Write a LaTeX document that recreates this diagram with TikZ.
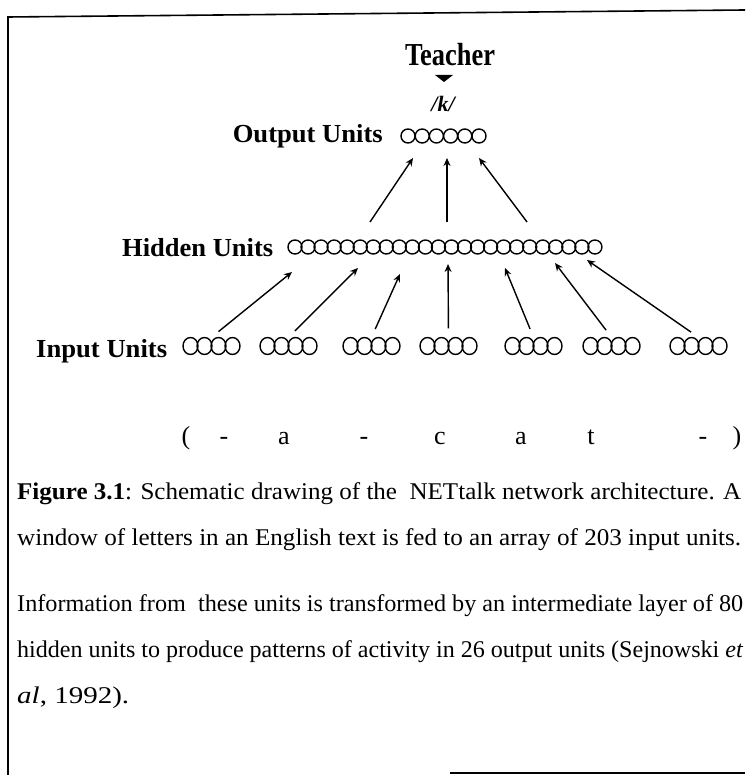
\documentclass[tikz,border=0pt]{standalone}
\usepackage{fontspec}
\setmainfont{Liberation Serif}
\usetikzlibrary{arrows.meta}
\tikzset{
  frame/.style={line width=1.6pt, black},
  unit/.style={line width=1.4pt, black},
  arr/.style={line width=1.4pt, -{Stealth[length=8pt,width=7pt]}},
  lbl/.style={inner sep=0pt, font=\fontsize{26}{26}\selectfont\bfseries},
  letter/.style={inner sep=0pt, anchor=base, font=\fontsize{26}{26}\selectfont},
  captxt/.style={inner sep=0pt, anchor=base west, font=\fontsize{24}{24}\selectfont},
}
\begin{document}
\begin{tikzpicture}[x=1pt,y=-1pt]
\useasboundingbox (0,0) rectangle (745,775);
% frame
\draw[frame] (745,10) -- (8,17) -- (8,775);
\draw[frame] (450,773) -- (745,773);

% teacher
\node[lbl, anchor=base, font=\fontsize{32}{32}\selectfont\bfseries] (teacher) at (450,66) {\resizebox{90pt}{\height}{Teacher}};
\fill (435,75) -- (453,75) -- (444,82) -- cycle;
\node[inner sep=0pt, anchor=base, font=\fontsize{22}{22}\selectfont\bfseries\itshape] (k) at (443,112) {/k/};

% output
\node[lbl, anchor=base east] (outlbl) at (383,143) {\resizebox{150pt}{\height}{Output Units}};
\node[inner sep=0pt, minimum width=84pt, minimum height=14pt] (out) at (444,136) {};
\foreach \k in {0,...,5} \draw[unit] (408+14.2*\k,136) circle[radius=7];

% hidden
\node[lbl, anchor=base west] (hidlbl) at (122,256) {\resizebox{151pt}{\height}{Hidden Units}};
\node[inner sep=0pt, minimum width=314pt, minimum height=14pt] (hid) at (445,247) {};
\foreach \k in {0,...,23} \draw[unit] (295+13.04*\k,247) circle[radius=7];

% output arrows
\coordinate (ot1) at (370,222); \coordinate (oh1) at (413,158);
\coordinate (ot2) at (447,222); \coordinate (oh2) at (447,158);
\coordinate (ot3) at (527,222); \coordinate (oh3) at (479,158);
\foreach \i in {1,2,3} \draw[arr] (ot\i) -- (oh\i);

% input
\node[lbl, anchor=base west] (inlbl) at (36,357) {\resizebox{131pt}{\height}{Input Units}};
\foreach \i/\l in {1/183,2/260,3/343,4/420,5/505,6/583,7/670} {
  \node[inner sep=0pt, minimum width=57pt, minimum height=17pt] (g\i) at (\l+28.5,346) {};
  \foreach \k in {0,...,3} \draw[unit] (\l+7.5+14*\k,346) ellipse[x radius=7.5, y radius=8.5];
}
% input arrows
\coordinate (ih1) at (292,272);
\coordinate (ih2) at (358,268);
\coordinate (ih3) at (400,274);
\coordinate (ih4) at (448,264);
\coordinate (ih5) at (505,268);
\coordinate (ih6) at (555,263);
\coordinate (ih7) at (587,260);
\foreach \i in {1,...,7} \draw[arr, shorten <=9pt] (g\i.north) -- (ih\i);

% letters
\foreach \x/\t [count=\n] in {186/(,224/-,284/a,364/-,440/c,521/a,591/t,703/-,737/)}
  \node[letter] (let\n) at (\x,444) {\t};

% caption
\node[captxt] (c1) at (17,499) {\resizebox{724pt}{\height}{\textbf{Figure 3.1}: Schematic drawing of the \ NETtalk network architecture. A}};
\node[captxt] (c2) at (17,545) {\resizebox{724pt}{\height}{window of letters in an English text is fed to an array of 203 input units.}};
\node[captxt] (c3) at (17,611) {\resizebox{726pt}{\height}{Information from \ these units is transformed by an intermediate layer of 80}};
\node[captxt] (c4) at (17,657) {\resizebox{726pt}{\height}{hidden units to produce patterns of activity in 26 output units (Sejnowski \textit{et}}};
\node[captxt] (c5) at (17,703) {\resizebox{112pt}{\height}{\textit{al}, 1992).}};
\end{tikzpicture}
\end{document}
